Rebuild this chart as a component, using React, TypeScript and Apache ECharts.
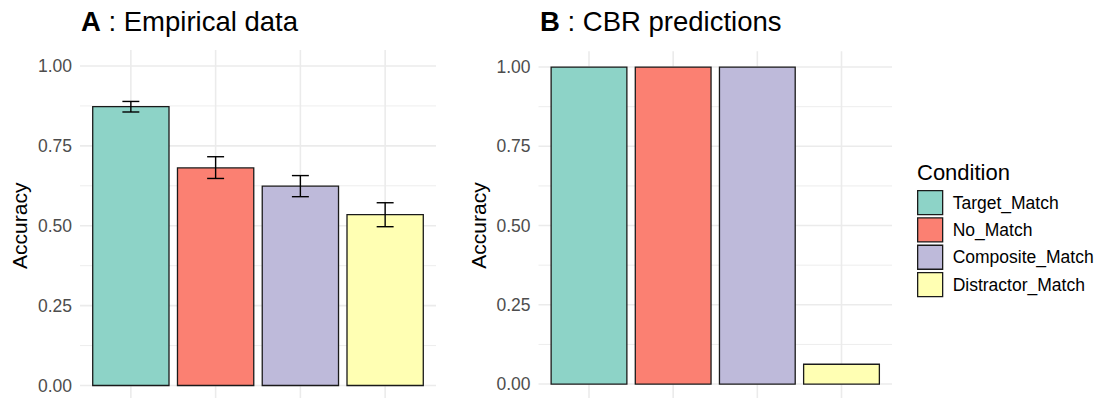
import React, { useEffect, useRef } from "react";
import * as echarts from "echarts";

const conditions = ["Target_Match", "No_Match", "Composite_Match", "Distractor_Match"];
const colors = ["#8DD3C7", "#FB8072", "#BEBADA", "#FFFFB3"];
const empiricalMean = [0.873, 0.681, 0.624, 0.535];
const empiricalLower = [0.856, 0.648, 0.591, 0.497];
const empiricalUpper = [0.889, 0.716, 0.657, 0.572];
const cbrPred = [1, 1, 1, 0.0625];
const yTicks = [0, 0.25, 0.5, 0.75, 1];
const yMinor = [0.125, 0.375, 0.625, 0.875];
const xPositions = [1, 2, 3, 4];

const FONT = "Liberation Sans";
const X_MIN = 0.4;
const X_MAX = 4.6;
const Y_MIN = -0.05;
const Y_MAX = 1.05;

export default function App() {
  const ref = useRef<HTMLDivElement>(null);
  useEffect(() => {
    if (!ref.current) return;
    const chart = echarts.init(ref.current, null, { renderer: "svg" });

    const gridData: number[][] = [];
    yTicks.forEach((v) => gridData.push([0, v]));
    yMinor.forEach((v) => gridData.push([1, v]));
    xPositions.forEach((v) => gridData.push([2, v]));

    const gridSeries = (idx: number) => ({
      type: "custom",
      xAxisIndex: idx,
      yAxisIndex: idx,
      z: 0,
      silent: true,
      data: gridData,
      renderItem: (params: any, api: any) => {
        const kind = api.value(0);
        const v = api.value(1);
        let a: number[], b: number[];
        if (kind === 2) {
          a = api.coord([v, Y_MIN]);
          b = api.coord([v, Y_MAX]);
        } else {
          a = api.coord([X_MIN, v]);
          b = api.coord([X_MAX, v]);
        }
        return {
          type: "line",
          shape: { x1: a[0], y1: a[1], x2: b[0], y2: b[1] },
          style: { stroke: "#ebebeb", lineWidth: kind === 1 ? 0.9 : 1.6 },
        };
      },
    });

    const barSeries = (idx: number, ci: number, data: number[][]) => ({
      type: "custom",
      name: conditions[ci],
      xAxisIndex: idx,
      yAxisIndex: idx,
      z: 2,
      itemStyle: { color: colors[ci] },
      data,
      renderItem: (params: any, api: any) => {
        const x = api.value(0);
        const y = api.value(1);
        const p0 = api.coord([x - 0.45, y]);
        const p1 = api.coord([x + 0.45, 0]);
        const children: any[] = [
          {
            type: "rect",
            shape: { x: p0[0], y: p0[1], width: p1[0] - p0[0], height: p1[1] - p0[1] },
            style: { fill: colors[ci], stroke: "#1a1a1a", lineWidth: 1.3 },
          },
        ];
        if (data[0].length > 2) {
          const lo = api.value(2);
          const hi = api.value(3);
          const c = api.coord([x, lo]);
          const d = api.coord([x, hi]);
          const l = api.coord([x - 0.1, lo]);
          const r = api.coord([x + 0.1, hi]);
          children.push(
            { type: "line", shape: { x1: c[0], y1: c[1], x2: d[0], y2: d[1] }, style: { stroke: "#000", lineWidth: 1.4 } },
            { type: "line", shape: { x1: l[0], y1: c[1], x2: r[0], y2: c[1] }, style: { stroke: "#000", lineWidth: 1.4 } },
            { type: "line", shape: { x1: l[0], y1: d[1], x2: r[0], y2: d[1] }, style: { stroke: "#000", lineWidth: 1.4 } }
          );
        }
        return { type: "group", children };
      },
    });

    const yAxis = (idx: number) => ({
      type: "value",
      gridIndex: idx,
      min: Y_MIN,
      max: Y_MAX,
      name: "Accuracy",
      nameLocation: "middle",
      nameGap: 50,
      nameTextStyle: { fontFamily: FONT, fontSize: 21, color: "#000" },
      axisLine: { show: false },
      axisTick: { show: false },
      splitLine: { show: false },
      axisLabel: {
        customValues: yTicks,
        formatter: (v: number) => v.toFixed(2),
        fontFamily: FONT,
        fontSize: 17.5,
        color: "#4d4d4d",
        margin: 8,
      },
    });
    const xAxis = (idx: number) => ({
      type: "value",
      gridIndex: idx,
      min: X_MIN,
      max: X_MAX,
      show: false,
    });

    const series: any[] = [gridSeries(0), gridSeries(1)];
    conditions.forEach((_, ci) => {
      series.push(
        barSeries(0, ci, [[xPositions[ci], empiricalMean[ci], empiricalLower[ci], empiricalUpper[ci]]])
      );
    });
    conditions.forEach((_, ci) => {
      series.push(barSeries(1, ci, [[xPositions[ci], cbrPred[ci]]]));
    });

    const titleStyle = {
      fontFamily: FONT,
      fontSize: 27.5,
      fontWeight: "normal",
      color: "#000",
      rich: { b: { fontFamily: FONT, fontSize: 27.5, fontWeight: "bold", color: "#000" } },
    };

    chart.setOption({
      animation: false,
      textStyle: { fontFamily: FONT },
      title: [
        { text: "{b|A} : Empirical data", left: 81, top: 7, padding: 0, textStyle: titleStyle },
        { text: "{b|B} : CBR predictions", left: 540, top: 7, padding: 0, textStyle: titleStyle },
        {
          text: "Condition",
          left: 917,
          top: 161,
          padding: 0,
          textStyle: { fontFamily: FONT, fontSize: 22, fontWeight: "normal", color: "#000" },
        },
      ],
      legend: {
        orient: "vertical",
        left: 917,
        top: 190,
        padding: 0,
        itemWidth: 25,
        itemHeight: 24,
        itemGap: 2,
        icon: "rect",
        selectedMode: false,
        textStyle: { fontFamily: FONT, fontSize: 17.5, color: "#000", padding: [0, 0, 0, 5] },
        data: conditions.map((name, i) => ({
          name,
          itemStyle: { color: colors[i], borderColor: "#1a1a1a", borderWidth: 1.3 },
        })),
      },
      grid: [
        { left: 80, width: 356, top: 50, height: 351.5, outerBoundsMode: "none", containLabel: false },
        { left: 538.5, width: 353.5, top: 51.2, height: 348.7, outerBoundsMode: "none", containLabel: false },
      ],
      xAxis: [xAxis(0), xAxis(1)],
      yAxis: [yAxis(0), yAxis(1)],
      series,
    });
    return () => chart.dispose();
  }, []);
  return (
    <div
      ref={ref}
      style={{ position: "absolute", left: 0, top: 0, width: 1098, height: 398, background: "#fff" }}
    />
  );
}
